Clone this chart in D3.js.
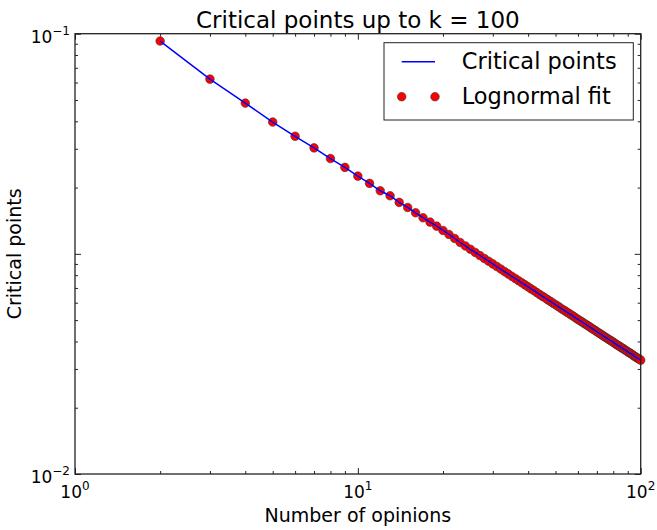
<!DOCTYPE html>
<html>
<head>
<meta charset="utf-8">
<script src="https://cdn.jsdelivr.net/npm/d3@7"></script>
<style>
  body { margin: 0; background: #fff; }
  svg { display: block; font-family: 'DejaVu Sans', sans-serif; }
</style>
</head>
<body>
<svg id="chart"></svg>
<script>
const title = 'Critical points up to k = 100';
const xLabel = 'Number of opinions';
const yLabel = 'Critical points';
const seriesNames = ['Critical points', 'Lognormal fit'];

// number of opinions k = 2 .. 100
const numOpinions = d3.range(2, 101);

// one value per k
const criticalPoints = [
  0.0926, 0.0622, 0.0484, 0.0397, 0.0342, 0.0303, 0.0271, 0.0247,
  0.02255, 0.0209, 0.01934, 0.01836, 0.01713, 0.01625, 0.01536, 0.01459, 0.01394, 0.01336,
  0.01277, 0.01225, 0.01174, 0.01126, 0.01086, 0.01049, 0.01015, 0.00983, 0.00953, 0.00926,
  0.00900, 0.00876, 0.00853, 0.00831, 0.00811, 0.00791, 0.00773, 0.00755, 0.00739, 0.00723,
  0.00708, 0.00693, 0.00680, 0.00666, 0.00653, 0.00641, 0.00630, 0.00618, 0.00608, 0.00597,
  0.00587, 0.00578, 0.00568, 0.00559, 0.00551, 0.00542, 0.00534, 0.00527, 0.00519, 0.00511,
  0.00504, 0.00497, 0.00491, 0.00484, 0.00478, 0.00472, 0.00466, 0.00460, 0.00454, 0.00449,
  0.00443, 0.00438, 0.00433, 0.00428, 0.00423, 0.00418, 0.00414, 0.00409, 0.00405, 0.00401,
  0.00397, 0.00392, 0.00388, 0.00384, 0.00381, 0.00377, 0.00373, 0.00370, 0.00366, 0.00363,
  0.00359, 0.00356, 0.00353, 0.00350, 0.00346, 0.00343, 0.00340, 0.00337, 0.00335, 0.00332,
  0.00329
];
// the red dots sit right on the blue line at this resolution
const lognormalFit = criticalPoints;

const xTicks = [1, 10, 100];
const xTickLabels = [['10', '0'], ['10', '1'], ['10', '2']];
const yTicks = [0.1, 0.01, 0.001];
const yTickLabels = [['10', '\u22121'], ['', ''], ['10', '\u22122']];

const width = 657;
const height = 530;
const margin = { top: 33.7, right: 16.3, bottom: 56, left: 75 };

const x = d3.scaleLog()
  .domain([1, 100])
  .range([margin.left, width - margin.right]);

const y = d3.scaleLog()
  .domain([0.001, 0.1])
  .range([height - margin.bottom, margin.top]);

const svg = d3.select('#chart')
  .attr('width', width)
  .attr('height', height);

const bottom = height - margin.bottom;
const right = width - margin.right;

// ticks point inward, on all four sides
const xMinor = x.ticks().filter(d => !xTicks.includes(d));
const yMinor = y.ticks().filter(d => !yTicks.some(t => Math.abs(t - d) < 1e-9));

const tickAxis = (axis, scale, values, size) => axis(scale).tickValues(values).tickSize(size).tickFormat('');

const axes = [
  [d3.axisBottom, x, `translate(0,${bottom})`],
  [d3.axisTop, x, `translate(0,${margin.top})`],
  [d3.axisLeft, y, `translate(${margin.left},0)`],
  [d3.axisRight, y, `translate(${right},0)`]
];
axes.forEach(([axis, scale, tr]) => {
  const isX = scale === x;
  svg.append('g').attr('transform', tr)
    .call(tickAxis(axis, scale, isX ? xTicks : yTicks, -6));
  svg.append('g').attr('transform', tr)
    .call(tickAxis(axis, scale, isX ? xMinor : yMinor, -3));
});
svg.selectAll('.domain').remove();
svg.selectAll('.tick line').attr('stroke', '#222').attr('stroke-width', 1);

// markers first, line on top
const pts = numOpinions.map((k, i) => ({ k, v: lognormalFit[i] }));
svg.append('g')
  .selectAll('circle')
  .data(pts)
  .join('circle')
  .attr('cx', d => x(d.k))
  .attr('cy', d => y(d.v))
  .attr('r', 4.3)
  .attr('fill', '#ff0000')
  .attr('stroke', '#333')
  .attr('stroke-width', 0.6);

svg.append('path')
  .datum(numOpinions.map((k, i) => ({ k, v: criticalPoints[i] })))
  .attr('fill', 'none')
  .attr('stroke', '#0000ff')
  .attr('stroke-width', 1.5)
  .attr('d', d3.line().x(d => x(d.k)).y(d => y(d.v)));

svg.append('rect')
  .attr('x', margin.left)
  .attr('y', margin.top)
  .attr('width', right - margin.left)
  .attr('height', bottom - margin.top)
  .attr('fill', 'none')
  .attr('stroke', '#222')
  .attr('stroke-width', 1.3);

// tick labels with superscripts
const xl = svg.append('g')
  .attr('font-size', 17)
  .attr('text-anchor', 'middle')
  .selectAll('text')
  .data(xTicks)
  .join('text')
  .attr('x', d => x(d))
  .attr('y', bottom + 24);
xl.append('tspan').text((d, i) => xTickLabels[i][0]);
xl.append('tspan').attr('font-size', 12).attr('dy', -8).text((d, i) => xTickLabels[i][1]);

const yl = svg.append('g')
  .attr('font-size', 17)
  .attr('text-anchor', 'end')
  .selectAll('text')
  .data(yTicks)
  .join('text')
  .attr('x', margin.left - 5)
  .attr('y', d => y(d) + 9);
yl.append('tspan').text((d, i) => yTickLabels[i][0]);
yl.append('tspan').attr('font-size', 12).attr('dy', -8).text((d, i) => yTickLabels[i][1]);

svg.append('text')
  .attr('x', (margin.left + right) / 2)
  .attr('y', 28)
  .attr('text-anchor', 'middle')
  .attr('font-size', 23)
  .text(title);

svg.append('text')
  .attr('x', (margin.left + right) / 2)
  .attr('y', 522)
  .attr('text-anchor', 'middle')
  .attr('font-size', 19)
  .text(xLabel);

svg.append('text')
  .attr('transform', `translate(21,${(margin.top + bottom) / 2}) rotate(-90)`)
  .attr('text-anchor', 'middle')
  .attr('font-size', 19)
  .text(yLabel);

// legend
const legend = svg.append('g');
legend.append('rect')
  .attr('x', 384).attr('y', 42.7)
  .attr('width', 249.3).attr('height', 77.3)
  .attr('fill', '#fff')
  .attr('stroke', '#222')
  .attr('stroke-width', 1);
legend.append('line')
  .attr('x1', 401.7).attr('x2', 435)
  .attr('y1', 61.7).attr('y2', 61.7)
  .attr('stroke', '#0000ff')
  .attr('stroke-width', 1.5);
legend.selectAll('circle')
  .data([401.7, 435])
  .join('circle')
  .attr('cx', d => d)
  .attr('cy', 96.7)
  .attr('r', 4.3)
  .attr('fill', '#ff0000')
  .attr('stroke', '#333')
  .attr('stroke-width', 0.6);
legend.selectAll('text')
  .data(seriesNames)
  .join('text')
  .attr('x', 461.7)
  .attr('y', (d, i) => 69 + i * 35)
  .attr('font-size', 22.5)
  .text(d => d);
</script>
</body>
</html>
